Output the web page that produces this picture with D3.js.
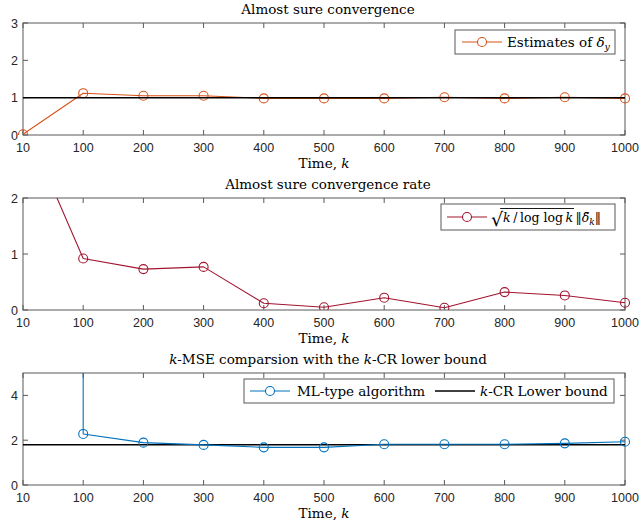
<!DOCTYPE html>
<html>
<head>
<meta charset="utf-8">
<script src="https://cdn.jsdelivr.net/npm/d3@7"></script>
<style>
  html, body { margin: 0; padding: 0; background: #ffffff; }
  svg { display: block; }
  .tick-label { font-family: "Liberation Sans", Arial, sans-serif; font-size: 12.5px; fill: #262626; }
  .latex { font-family: "DejaVu Serif", "Liberation Serif", serif; fill: #000; }
</style>
</head>
<body>
<svg id="chart" width="641" height="525"></svg>
<script>
// ---------- data ----------
const timeLabels = ["10", "100", "200", "300", "400", "500", "600", "700", "800", "900", "1000"];

// Panel 1: almost sure convergence
const estimatesDelta = [0.02, 1.12, 1.05, 1.05, 0.98, 0.98, 0.98, 1.01, 0.98, 1.01, 0.98];
const trueDelta = [1, 1, 1, 1, 1, 1, 1, 1, 1, 1, 1];
const yTicks1 = [0, 1, 2, 3];

// Panel 2: almost sure convergence rate
const convRate = [3.4, 0.92, 0.73, 0.77, 0.12, 0.05, 0.22, 0.04, 0.32, 0.26, 0.13];
const yTicks2 = [0, 1, 2];

// Panel 3: k-MSE vs k-CR lower bound
const mseML = [10000, 2.28, 1.89, 1.79, 1.68, 1.68, 1.82, 1.82, 1.82, 1.86, 1.93];
const crBound = [1.8, 1.8, 1.8, 1.8, 1.8, 1.8, 1.8, 1.8, 1.8, 1.8, 1.8];
const yTicks3 = [0, 2, 4];

// ---------- layout ----------
const svg = d3.select("#chart");
const left = 23, right = 625, plotH = 112;
const x = d3.scalePoint().domain(timeLabels).range([left, right]).padding(0);
const axisColor = "#595959";
const cOrange = "#D95319", cRed = "#A2142F", cBlue = "#0072BD";
const fs = "13.5px";

function panel(opts) {
  const top = opts.top, bottom = top + plotH;
  const y = d3.scaleLinear().domain(opts.yDomain).range([bottom, top]);
  const g = svg.append("g");
  const clipId = "clip" + opts.id;
  svg.append("defs").append("clipPath").attr("id", clipId)
    .append("rect").attr("x", left - 6).attr("y", top).attr("width", right - left + 12).attr("height", plotH);

  g.append("rect").attr("x", left).attr("y", top).attr("width", right - left).attr("height", plotH)
    .attr("fill", "none").attr("stroke", axisColor).attr("stroke-width", 1);

  const tl = 5;
  timeLabels.forEach(t => {
    const xx = x(t);
    g.append("line").attr("x1", xx).attr("x2", xx).attr("y1", bottom).attr("y2", bottom - tl).attr("stroke", axisColor);
    g.append("line").attr("x1", xx).attr("x2", xx).attr("y1", top).attr("y2", top + tl).attr("stroke", axisColor);
    g.append("text").attr("class", "tick-label").attr("x", xx).attr("y", bottom + 17)
      .attr("text-anchor", "middle").text(t);
  });
  opts.yTicks.forEach(v => {
    const yy = y(v);
    g.append("line").attr("x1", left).attr("x2", left + tl).attr("y1", yy).attr("y2", yy).attr("stroke", axisColor);
    g.append("line").attr("x1", right).attr("x2", right - tl).attr("y1", yy).attr("y2", yy).attr("stroke", axisColor);
    g.append("text").attr("class", "tick-label").attr("x", left - 5).attr("y", yy + 4.5)
      .attr("text-anchor", "end").text(v);
  });

  const title = g.append("text").attr("class", "latex").attr("x", (left + right) / 2 + 4).attr("y", top - 9)
    .attr("text-anchor", "middle").attr("font-size", fs);
  opts.title(title);

  const xl = g.append("text").attr("class", "latex").attr("x", (left + right) / 2).attr("y", bottom + 33)
    .attr("text-anchor", "middle").attr("font-size", fs);
  xl.append("tspan").text("Time, ");
  xl.append("tspan").attr("font-style", "italic").text("k");

  const plot = g.append("g").attr("clip-path", `url(#${clipId})`);
  return { g, plot, y, top, bottom };
}

function drawSeries(p, values, color, markers, width) {
  const line = d3.line().x((d, i) => x(timeLabels[i])).y(d => p.y(d));
  p.plot.append("path").datum(values).attr("d", line).attr("fill", "none")
    .attr("stroke", color).attr("stroke-width", width || 1.1).attr("stroke-linejoin", "round");
  if (markers) {
    p.plot.selectAll(null).data(values).enter().append("circle")
      .attr("cx", (d, i) => x(timeLabels[i])).attr("cy", d => p.y(d)).attr("r", 4.5)
      .attr("fill", "none").attr("stroke", color).attr("stroke-width", 1.1);
  }
}

function legendBox(g, x0, y0, w, h) {
  g.append("rect").attr("x", x0).attr("y", y0).attr("width", w).attr("height", h)
    .attr("fill", "#fff").attr("stroke", axisColor).attr("stroke-width", 1);
}
function legendSample(g, x0, yc, color, marker, width) {
  g.append("line").attr("x1", x0).attr("x2", x0 + 40).attr("y1", yc).attr("y2", yc)
    .attr("stroke", color).attr("stroke-width", width || 1.1);
  if (marker) g.append("circle").attr("cx", x0 + 20).attr("cy", yc).attr("r", 4.5)
    .attr("fill", "#fff").attr("stroke", color).attr("stroke-width", 1.1);
}

// ---------- panel 1 ----------
const p1 = panel({ id: 1, top: 23, yDomain: [0, 3], yTicks: yTicks1,
  title: t => t.text("Almost sure convergence") });
drawSeries(p1, estimatesDelta, cOrange, true);
drawSeries(p1, trueDelta, "#000", false, 1.5);
legendBox(p1.g, 455, 30, 160, 24);
legendSample(p1.g, 462, 42, cOrange, true);
{
  const t = p1.g.append("text").attr("class", "latex").attr("x", 507).attr("y", 47).attr("font-size", fs);
  t.append("tspan").text("Estimates of ");
  t.append("tspan").attr("font-style", "italic").text("δ");
  t.append("tspan").attr("font-style", "italic").attr("font-size", "9.5px").attr("dy", 3).text("y");
}

// ---------- panel 2 ----------
const p2 = panel({ id: 2, top: 198, yDomain: [0, 2], yTicks: yTicks2,
  title: t => t.text("Almost sure convergence rate") });
drawSeries(p2, convRate, cRed, true);
legendBox(p2.g, 441, 204, 174, 26);
legendSample(p2.g, 447, 217, cRed, true);
{
  const g = p2.g;
  const base = 222;
  const t = g.append("text").attr("class", "latex").attr("x", 491).attr("y", base).attr("font-size", "12.5px");
  const midTxt = "\u2009/\u2009log log\u2009";
  t.append("tspan").attr("font-size", "19px").attr("dy", 4).text("√");
  t.append("tspan").attr("font-style", "italic").attr("dy", -4).text("k");
  t.append("tspan").text(midTxt);
  t.append("tspan").attr("font-style", "italic").text("k");
  t.append("tspan").text("\u2009\u2016");
  t.append("tspan").attr("font-style", "italic").text("δ\u0303");
  t.append("tspan").attr("font-style", "italic").attr("font-size", "9px").attr("dy", 3).text("k");
  t.append("tspan").attr("dy", -3).text("\u2016");
  const node = t.node();
  const iK2 = 2 + midTxt.length;      // second k
  const radEnd = node.getEndPositionOfChar(iK2).x;
  const radX0 = node.getStartPositionOfChar(1).x - 3;
  g.append("line").attr("x1", radX0).attr("x2", radEnd + 1).attr("y1", 208.5).attr("y2", 208.5)
    .attr("stroke", "#000").attr("stroke-width", 0.9);
}

// ---------- panel 3 ----------
const p3 = panel({ id: 3, top: 373, yDomain: [0, 5], yTicks: yTicks3,
  title: t => {
    t.append("tspan").attr("font-style", "italic").text("k");
    t.append("tspan").text("-MSE comparsion with the ");
    t.append("tspan").attr("font-style", "italic").text("k");
    t.append("tspan").text("-CR lower bound");
  } });
drawSeries(p3, crBound, "#000", false, 1.5);
drawSeries(p3, mseML, cBlue, true);
legendBox(p3.g, 244, 379, 370, 24);
legendSample(p3.g, 250, 391, cBlue, true);
p3.g.append("text").attr("class", "latex").attr("x", 297).attr("y", 396).attr("font-size", fs).text("ML-type algorithm");
legendSample(p3.g, 435, 391, "#000", false, 1.5);
{
  const t = p3.g.append("text").attr("class", "latex").attr("x", 480).attr("y", 396).attr("font-size", fs);
  t.append("tspan").attr("font-style", "italic").text("k");
  t.append("tspan").text("-CR Lower bound");
}
</script>
</body>
</html>
